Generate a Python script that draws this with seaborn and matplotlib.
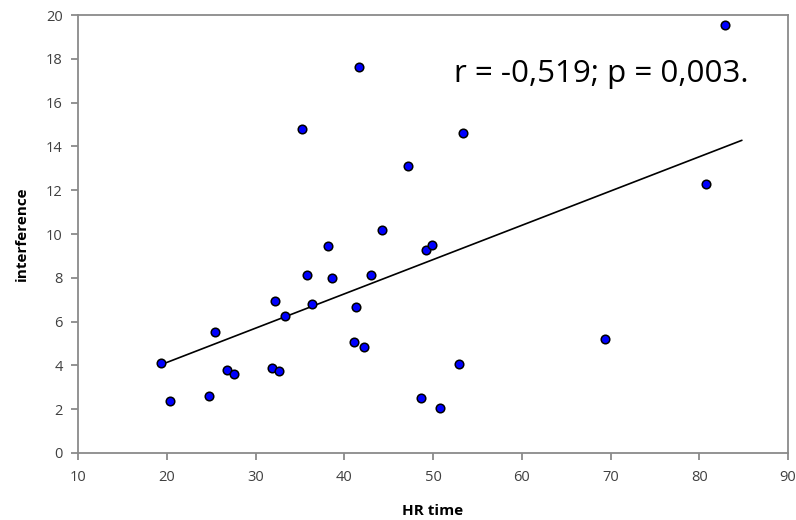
import matplotlib
matplotlib.use("Agg")
import matplotlib.pyplot as plt
import seaborn as sns
import pandas as pd

hr_time = [19.35, 20.37, 24.8, 25.44, 26.83, 27.58, 31.86, 32.16, 32.65, 33.32,
           35.2, 35.8, 36.37, 38.2, 38.66, 41.14, 41.29, 41.66, 42.26, 42.98,
           44.29, 47.2, 48.7, 49.2, 49.9, 50.75, 52.9, 53.35, 69.4, 80.76, 82.9]
interference = [4.13, 2.38, 2.62, 5.52, 3.78, 3.62, 3.9, 6.94, 3.72, 6.24,
                14.78, 8.12, 6.82, 9.47, 8.0, 5.07, 6.65, 17.65, 4.84, 8.12,
                10.17, 13.1, 2.5, 9.29, 9.52, 2.03, 4.07, 14.63, 5.19, 12.27, 19.54]
trend_x = [19.35, 84.8]
trend_y = [4.03, 14.28]
x_ticks = [10, 20, 30, 40, 50, 60, 70, 80, 90]
y_ticks = [0, 2, 4, 6, 8, 10, 12, 14, 16, 18, 20]
annotation = "r = -0,519; p = 0,003."

sns.set_theme(style="white")
plt.rcParams['font.family'] = ['Open Sans', 'DejaVu Sans']

df = pd.DataFrame({"HR time": hr_time, "interference": interference})
tdf = pd.DataFrame({"x": trend_x, "y": trend_y})

fig = plt.figure(figsize=(7.96, 5.2), dpi=100)
ax = fig.add_axes([0.098, 0.129, 0.892, 0.842])

sns.lineplot(data=tdf, x="x", y="y", ax=ax, color="black", linewidth=1.2, zorder=2)
sns.scatterplot(data=df, x="HR time", y="interference", ax=ax, s=38,
                color="#0000ff", edgecolor="black", linewidth=1.1, zorder=3)

ax.set_xlim(10, 90)
ax.set_ylim(0, 20)
ax.set_xticks(x_ticks)
ax.set_yticks(y_ticks)
for s in ax.spines.values():
    s.set_color("#8a8a8a")
    s.set_linewidth(1.3)
ax.tick_params(axis="both", which="both", direction="out", length=5, width=1.3,
               color="#8a8a8a", labelsize=10.5, labelcolor="#404040",
               bottom=True, left=True)
ax.tick_params(axis="x", pad=7)
ax.tick_params(axis="y", pad=6)
ax.set_xlabel("HR time", fontsize=11, fontweight="bold", color="black", labelpad=14)
ax.set_ylabel("interference", fontsize=11, fontweight="bold", color="black", labelpad=12)

ax.text(52.4, 16.95, annotation, fontsize=22.5, color="black", va="baseline", ha="left")

fig.savefig("out.png", dpi=100)
